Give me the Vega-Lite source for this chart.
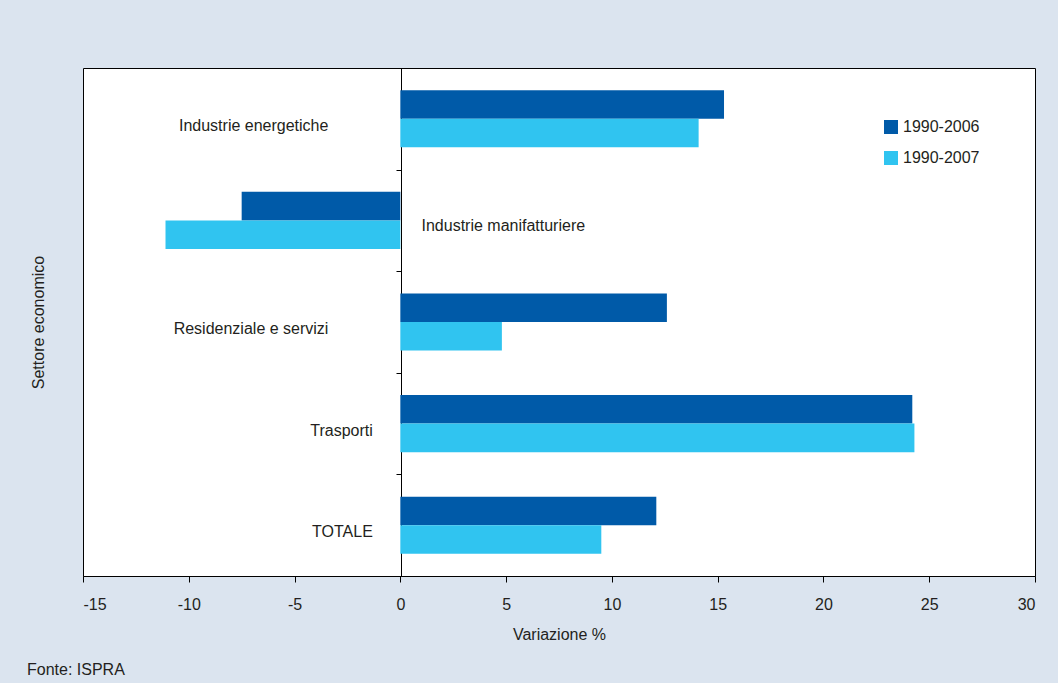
{
  "$schema": "https://vega.github.io/schema/vega-lite/v6.json",
  "width": 952,
  "height": 508,
  "autosize": {"type": "none"},
  "padding": {"left": 83, "top": 68, "right": 23, "bottom": 107},
  "background": "#dbe4ef",
  "title": {
    "text": "Fonte: ISPRA",
    "orient": "bottom",
    "anchor": "start",
    "frame": "group",
    "dx": -56,
    "offset": 20,
    "fontSize": 16,
    "fontWeight": "normal",
    "font": "Liberation Sans",
    "color": "#231f20"
  },
  "config": {
    "font": "Liberation Sans",
    "view": {"stroke": "#000", "strokeWidth": 1, "fill": "#ffffff"},
    "axis": {
      "labelFont": "Liberation Sans",
      "titleFont": "Liberation Sans",
      "labelColor": "#231f20",
      "titleColor": "#231f20",
      "domainColor": "#000",
      "tickColor": "#000",
      "grid": false
    }
  },
  "data": {
    "values": [
      {"settore": "Industrie energetiche", "periodo": "1990-2006", "valore": 15.3},
      {"settore": "Industrie energetiche", "periodo": "1990-2007", "valore": 14.1},
      {"settore": "Industrie manifatturiere", "periodo": "1990-2006", "valore": -7.5},
      {"settore": "Industrie manifatturiere", "periodo": "1990-2007", "valore": -11.1},
      {"settore": "Residenziale e servizi", "periodo": "1990-2006", "valore": 12.6},
      {"settore": "Residenziale e servizi", "periodo": "1990-2007", "valore": 4.8},
      {"settore": "Trasporti", "periodo": "1990-2006", "valore": 24.2},
      {"settore": "Trasporti", "periodo": "1990-2007", "valore": 24.3},
      {"settore": "TOTALE", "periodo": "1990-2006", "valore": 12.1},
      {"settore": "TOTALE", "periodo": "1990-2007", "valore": 9.5}
    ]
  },
  "encoding": {
    "y": {
      "field": "settore",
      "type": "nominal",
      "sort": ["Industrie energetiche", "Industrie manifatturiere", "Residenziale e servizi", "Trasporti", "TOTALE"],
      "scale": {"paddingInner": 0, "paddingOuter": 0},
      "axis": {
        "title": "Settore economico",
        "labels": false,
        "offset": -318,
        "tickBand": "extent",
        "tickSize": 5,
        "titleX": -363,
        "titleY": 254,
        "titleAlign": "center",
        "titleBaseline": "middle",
        "titleAngle": -90,
        "titleFontSize": 16,
        "titleFontWeight": "normal"
      }
    }
  },
  "layer": [
    {
      "mark": {"type": "bar"},
      "encoding": {
        "x": {
          "field": "valore",
          "type": "quantitative",
          "scale": {"domain": [-15, 30], "nice": false},
          "axis": {
            "values": [-15, -10, -5, 0, 5, 10, 15, 20, 25, 30],
            "labelExpr": "'' + datum.value",
            "title": "Variazione %",
            "labelFontSize": 16,
            "titleFontSize": 16,
            "titleFontWeight": "normal",
            "tickSize": 6,
            "labelPadding": 14,
            "titlePadding": 14
          }
        },
        "yOffset": {"field": "periodo", "type": "nominal", "scale": {"paddingInner": 0, "paddingOuter": 0.78}},
        "color": {
          "field": "periodo",
          "type": "nominal",
          "scale": {"domain": ["1990-2006", "1990-2007"], "range": ["#005aa8", "#30c4f0"]},
          "legend": {
            "title": null,
            "orient": "none",
            "legendX": 800,
            "legendY": 51,
            "symbolType": "square",
            "symbolSize": 196,
            "symbolStrokeWidth": 0,
            "labelFontSize": 16,
            "labelColor": "#231f20",
            "labelOffset": 4,
            "rowPadding": 15,
            "labelFont": "Liberation Sans"
          }
        }
      }
    },
    {
      "transform": [
        {"filter": "datum.periodo == '1990-2006' && (datum.settore == 'Industrie energetiche' || datum.settore == 'Residenziale e servizi')"}
      ],
      "mark": {"type": "text", "align": "right", "baseline": "middle", "dy": 7, "fontSize": 16, "color": "#231f20"},
      "encoding": {
        "x": {"datum": -3.4},
        "text": {"field": "settore"}
      }
    },
    {
      "transform": [
        {"filter": "datum.periodo == '1990-2006' && (datum.settore == 'Trasporti' || datum.settore == 'TOTALE')"}
      ],
      "mark": {"type": "text", "align": "right", "baseline": "middle", "dy": 7, "fontSize": 16, "color": "#231f20"},
      "encoding": {
        "x": {"datum": -1.3},
        "text": {"field": "settore"}
      }
    },
    {
      "transform": [
        {"filter": "datum.periodo == '1990-2006' && datum.settore == 'Industrie manifatturiere'"}
      ],
      "mark": {"type": "text", "align": "left", "baseline": "middle", "dy": 6, "fontSize": 16, "color": "#231f20"},
      "encoding": {
        "x": {"datum": 1.0},
        "text": {"field": "settore"}
      }
    }
  ]
}
